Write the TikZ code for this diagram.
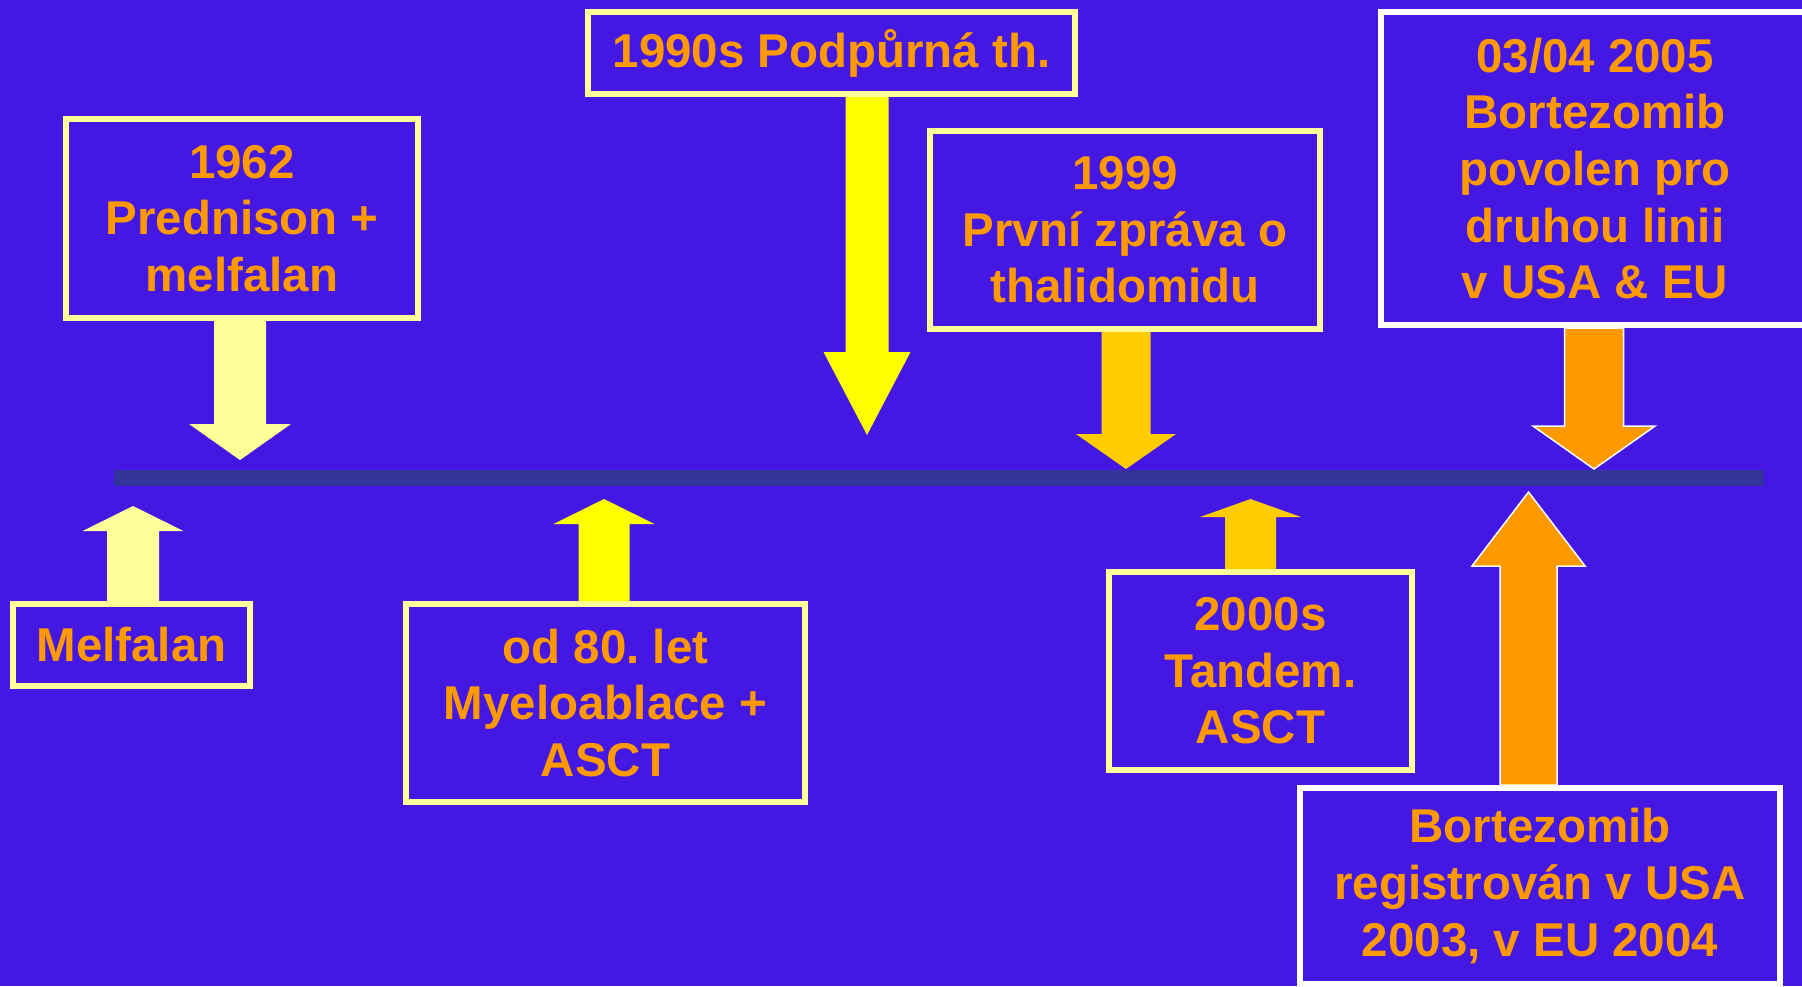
\documentclass[tikz,border=0pt]{standalone}
\usepackage{fontspec}
\setmainfont{Liberation Sans}
\usetikzlibrary{calc}
\frenchspacing

\definecolor{slidebg}{RGB}{68,24,226}
\definecolor{tlblue}{RGB}{51,51,153}
\definecolor{paleyellow}{HTML}{FFFF99}
\definecolor{brightyellow}{HTML}{FFFF00}
\definecolor{gold}{HTML}{FFCC00}
\definecolor{txtorange}{HTML}{FF9900}

% block arrow: style, base, tip, half shaft, half head, head length (+ down, - up)
\newcommand{\blockarrow}[6]{%
  \coordinate (ab) at (#2);
  \coordinate (at) at (#3);
  \path[#1] ($(ab)+(-#4,0)$) -- ($(ab)+(#4,0)$) -- ($(at)+(#4,#6)$) -- ($(at)+(#5,#6)$)
    -- (at) -- ($(at)+(-#5,#6)$) -- ($(at)+(-#4,#6)$) -- cycle;}

\tikzset{
  evbox/.style={draw=paleyellow, line width=0.06cm, fill=slidebg, text=txtorange,
    font=\fontsize{13.5}{16.1}\selectfont\bfseries, align=center, inner sep=0pt},
  newbox/.style={evbox, draw=white},
  tlbar/.style={fill=tlblue, inner sep=0pt},
  arrpale/.style={fill=paleyellow},
  arrbright/.style={fill=brightyellow},
  arrgold/.style={fill=gold},
  arrorange/.style={fill=txtorange, draw=white, line width=0.015cm}
}

\begin{document}
\begin{tikzpicture}
  \useasboundingbox (0,0) rectangle (18.02,-9.86);
  \clip (0,0) rectangle (18.02,-9.86);
  \fill[slidebg] (0,0) rectangle (18.02,-9.86);

  % time line
  \node[tlbar, minimum width=16.50cm, minimum height=0.16cm] (tl) at (9.39,-4.78) {};

  % above the line
  \node[evbox, minimum width=3.52cm, minimum height=1.99cm] (b1962) at (2.42,-2.185) {1962\\Prednison +\\melfalan};
  \node[evbox, minimum width=4.87cm, minimum height=0.82cm] (b1990) at (8.315,-0.53) {1990s Podpůrná th.};
  \node[evbox, minimum width=3.90cm, minimum height=1.98cm] (b1999) at (11.25,-2.30) {1999\\První zpráva o\\thalidomidu};
  \node[newbox, minimum width=4.28cm, minimum height=3.13cm] (b2005) at (15.95,-1.685) {03/04 2005\\Bortezomib\\povolen pro\\druhou linii\\v USA \& EU};

  % below the line
  \node[evbox, minimum width=2.37cm, minimum height=0.82cm] (bmel) at (1.315,-6.45) {Melfalan};
  \node[evbox, minimum width=3.99cm, minimum height=1.98cm] (b80) at (6.055,-7.03) {od 80. let\\Myeloablace +\\ASCT};
  \node[evbox, minimum width=3.03cm, minimum height=1.98cm] (b2000) at (12.605,-6.71) {2000s\\Tandem.\\ASCT};
  \node[newbox, minimum width=4.80cm, minimum height=1.96cm] (bbort) at (15.40,-8.86) {Bortezomib\\registrován v USA\\2003, v EU 2004};

  % arrow tips
  \coordinate (t1962) at (2.40,-4.60);
  \coordinate (t1990) at (8.67,-4.35);
  \coordinate (t1999) at (11.26,-4.69);
  \coordinate (t2005) at (15.94,-4.69);
  \coordinate (tmel) at (1.33,-5.06);
  \coordinate (t80) at (6.04,-4.99);
  \coordinate (t2000) at (12.505,-4.99);
  \coordinate (tbort) at (15.285,-4.92);

  \blockarrow{arrpale}{t1962 |- b1962.south}{t1962}{0.26}{0.51}{0.36}
  \blockarrow{arrbright}{t1990 |- b1990.south}{t1990}{0.215}{0.435}{0.83}
  \blockarrow{arrgold}{t1999 |- b1999.south}{t1999}{0.245}{0.50}{0.35}
  \blockarrow{arrorange}{t2005 |- b2005.south}{t2005}{0.295}{0.61}{0.43}
  \blockarrow{arrpale}{tmel |- bmel.north}{tmel}{0.26}{0.505}{-0.25}
  \blockarrow{arrbright}{t80 |- b80.north}{t80}{0.255}{0.505}{-0.25}
  \blockarrow{arrgold}{t2000 |- b2000.north}{t2000}{0.255}{0.505}{-0.18}
  \blockarrow{arrorange}{tbort |- bbort.north}{tbort}{0.285}{0.565}{-0.74}
\end{tikzpicture}
\end{document}
